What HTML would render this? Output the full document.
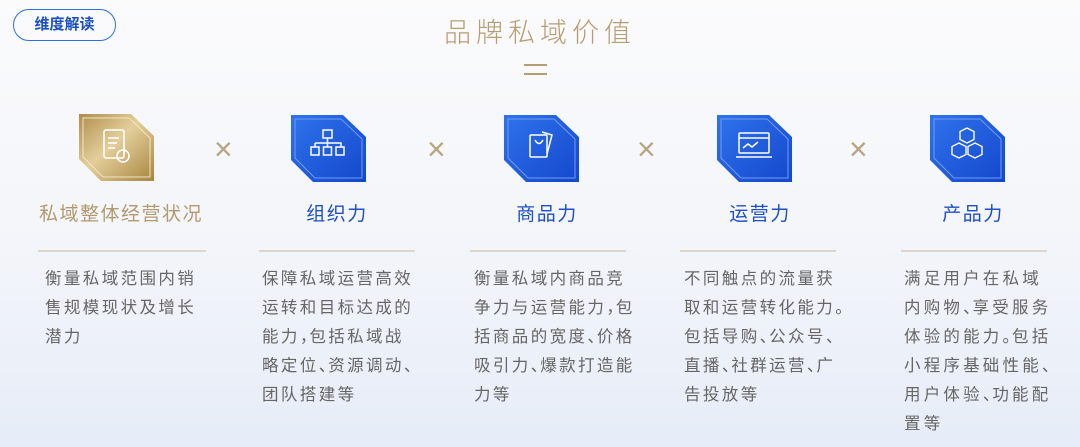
<!DOCTYPE html>
<html><head><meta charset="utf-8"><style>
body{margin:0;width:1080px;height:447px;overflow:hidden;background:linear-gradient(180deg,#fbfbfc 0%,#f3f5fa 55%,#e6ecf8 100%);font-family:"Liberation Sans","Noto Sans CJK SC",sans-serif;position:relative}
.badge{position:absolute;left:13px;top:9px;width:103px;height:32px;border:1.5px solid #2c6fe0;border-radius:17px;box-sizing:border-box;color:#1a4fc0;font-weight:bold;font-size:15px;text-align:center;line-height:29px}
.title{position:absolute;left:0;width:1080px;top:11px;text-align:center;color:#b59d72;font-size:27px;letter-spacing:5px;font-weight:300}
.eq{position:absolute;left:524px;top:64px;width:23px;height:2px;background:#b59d72;box-shadow:0 9px 0 #b59d72}
.icon{position:absolute;width:75px;height:67px}
.x{position:absolute;top:131px;color:#b7a582;font-size:32px;font-weight:300}
.name{position:absolute;top:199px;width:200px;text-align:center;font-size:19px;letter-spacing:1.5px}
.line{position:absolute;top:250px;height:2px;background:#ddd6cc}
.txt{position:absolute;top:265px;font-size:16.5px;line-height:29px;color:#666;letter-spacing:2.4px;white-space:nowrap}
.p{letter-spacing:-7px}
</style></head><body>
<div class="badge">维度解读</div>
<div class="title">品牌私域价值</div>
<div class="eq"></div>

<svg class="icon" style="left:79px;top:114px" viewBox="0 0 75 67"><defs><linearGradient id="g" x1="0" y1="0" x2="1" y2="1"><stop offset="0" stop-color="#b08c4c"/><stop offset=".45" stop-color="#e3cf9b"/><stop offset="1" stop-color="#a8843f"/></linearGradient></defs><polygon points="0,0 52,0 75,22 75,67 22,67 0,45" fill="url(#g)"/><polygon points="4,4 50,4 71,24 71,63 24,63 4,43" fill="none" stroke="#f2e5c2" stroke-width="1"/><g fill="none" stroke="#fff" stroke-width="1.6"><rect x="25" y="16" width="20" height="28" rx="2"/><line x1="29" y1="24" x2="40" y2="24"/><line x1="29" y1="29" x2="38" y2="29"/><line x1="29" y1="34" x2="36" y2="34"/><circle cx="44" cy="42" r="6"/></g></svg>
<div class="x" style="left:214px">×</div>

<svg class="icon" style="left:291px;top:115px" viewBox="0 0 75 67"><defs><linearGradient id="b" x1="0" y1="0" x2="1" y2="1"><stop offset="0" stop-color="#2f73ec"/><stop offset="1" stop-color="#1447cc"/></linearGradient></defs><polygon points="0,0 52,0 75,22 75,67 22,67 0,45" fill="url(#b)"/><polygon points="4,4 50,4 71,24 71,63 24,63 4,43" fill="none" stroke="#6f9cf0" stroke-width="1"/><g fill="none" stroke="#fff" stroke-width="1.5"><rect x="32" y="15" width="9" height="8"/><path d="M36.5 23v5M24 28h26v4M24 28v4M36.5 28v4"/><rect x="20" y="32" width="8" height="8"/><rect x="32.5" y="32" width="8" height="8"/><rect x="45" y="32" width="8" height="8"/></g></svg>
<div class="x" style="left:427px">×</div>

<svg class="icon" style="left:504px;top:115px" viewBox="0 0 75 67"><polygon points="0,0 52,0 75,22 75,67 22,67 0,45" fill="url(#b)"/><polygon points="4,4 50,4 71,24 71,63 24,63 4,43" fill="none" stroke="#6f9cf0" stroke-width="1"/><g fill="none" stroke="#fff" stroke-width="1.5"><rect x="26" y="20" width="17" height="22" rx="1"/><path d="M31 25q4 7 8 0"/><path d="M38 17l10 3-5 19"/></g></svg>
<div class="x" style="left:637px">×</div>

<svg class="icon" style="left:717px;top:115px" viewBox="0 0 75 67"><polygon points="0,0 52,0 75,22 75,67 22,67 0,45" fill="url(#b)"/><polygon points="4,4 50,4 71,24 71,63 24,63 4,43" fill="none" stroke="#6f9cf0" stroke-width="1"/><g fill="none" stroke="#fff" stroke-width="1.5"><rect x="22" y="18" width="30" height="20" rx="1"/><line x1="22" y1="23" x2="52" y2="23"/><path d="M26 33l5-4 4 3 6-5"/><line x1="19" y1="42" x2="55" y2="42"/></g></svg>
<div class="x" style="left:849px">×</div>

<svg class="icon" style="left:930px;top:115px" viewBox="0 0 75 67"><polygon points="0,0 52,0 75,22 75,67 22,67 0,45" fill="url(#b)"/><polygon points="4,4 50,4 71,24 71,63 24,63 4,43" fill="none" stroke="#6f9cf0" stroke-width="1"/><g fill="none" stroke="#fff" stroke-width="1.4"><path d="M37 13l7 3.5v8l-7 3.5-7-3.5v-8z"/><path d="M29 28l7 3.5v8l-7 3.5-7-3.5v-8z"/><path d="M45 28l7 3.5v8l-7 3.5-7-3.5v-8z"/></g></svg>

<div class="name" style="left:21px;color:#b29a70">私域整体经营状况</div>
<div class="name" style="left:237px;color:#1f4fc4">组织力</div>
<div class="name" style="left:447px;color:#1f4fc4">商品力</div>
<div class="name" style="left:660px;color:#1f4fc4">运营力</div>
<div class="name" style="left:873px;color:#1f4fc4">产品力</div>

<div class="line" style="left:38px;width:168px"></div>
<div class="line" style="left:259px;width:156px"></div>
<div class="line" style="left:470px;width:156px"></div>
<div class="line" style="left:680px;width:156px"></div>
<div class="line" style="left:901px;width:146px"></div>

<div class="txt" style="left:45px">衡量私域范围内销<br>售规模现状及增长<br>潜力</div>
<div class="txt" style="left:262px">保障私域运营高效<br>运转和目标达成的<br>能力<span class="p">，</span>包括私域战<br>略定位<span class="p">、</span>资源调动<span class="p">、</span><br>团队搭建等</div>
<div class="txt" style="left:474px">衡量私域内商品竞<br>争力与运营能力<span class="p">，</span>包<br>括商品的宽度<span class="p">、</span>价格<br>吸引力<span class="p">、</span>爆款打造能<br>力等</div>
<div class="txt" style="left:684px">不同触点的流量获<br>取和运营转化能力<span class="p">。</span><br>包括导购<span class="p">、</span>公众号<span class="p">、</span><br>直播<span class="p">、</span>社群运营<span class="p">、</span>广<br>告投放等</div>
<div class="txt" style="left:904px;letter-spacing:3.2px">满足用户在私域<br>内购物<span class="p">、</span>享受服务<br>体验的能力<span class="p">。</span>包括<br>小程序基础性能<span class="p">、</span><br>用户体验<span class="p">、</span>功能配<br>置等</div>
</body></html>
